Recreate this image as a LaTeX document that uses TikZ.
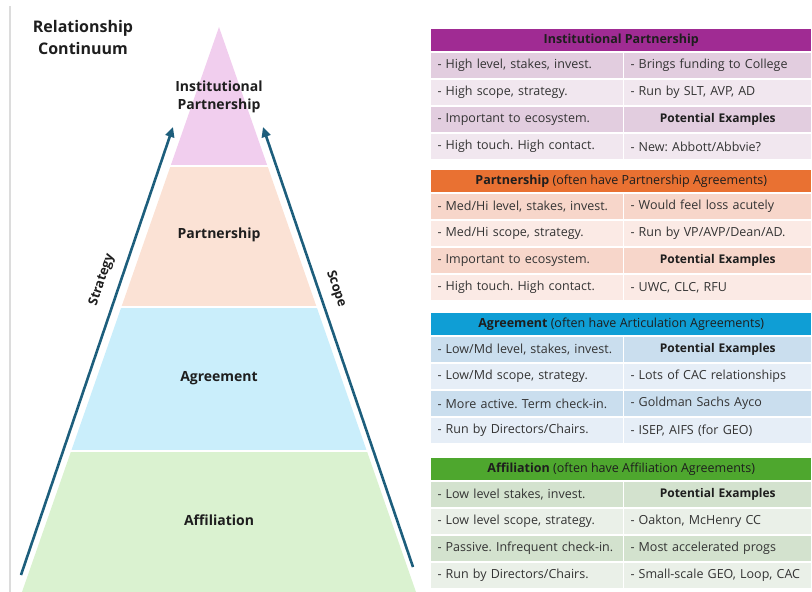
\documentclass[tikz,border=0pt]{standalone}
\usepackage{fontspec}
\setmainfont{Open Sans}
\usetikzlibrary{positioning,arrows.meta}
\frenchspacing

\definecolor{rulegray}{HTML}{DCDCDC}
\definecolor{inkdark}{HTML}{1E1E1E}
\definecolor{celltext}{HTML}{333333}
\definecolor{arrowteal}{HTML}{1D5E7C}
% pyramid bands
\definecolor{instfill}{HTML}{F1CEEE}
\definecolor{partfill}{HTML}{FBE2D5}
\definecolor{agrfill}{HTML}{CAEEFB}
\definecolor{afffill}{HTML}{DAF2D0}
% table colours
\definecolor{ipHeadCol}{HTML}{A02B93}
\definecolor{ipDark}{HTML}{E2CDDF}
\definecolor{ipLight}{HTML}{F1E7EF}
\definecolor{ptHeadCol}{HTML}{E97132}
\definecolor{ptDark}{HTML}{F7D6CA}
\definecolor{ptLight}{HTML}{FBEAE5}
\definecolor{agHeadCol}{HTML}{0F9ED5}
\definecolor{agDark}{HTML}{CADEEE}
\definecolor{agLight}{HTML}{E6EEF7}
\definecolor{afHeadCol}{HTML}{4EA72E}
\definecolor{afDark}{HTML}{D3E2CE}
\definecolor{afLight}{HTML}{EAF0E8}

\tikzstyle{titletext} = [align=center, font=\fontsize{16}{22}\selectfont\bfseries, text=inkdark]
\tikzstyle{layer} = [align=center, font=\fontsize{14}{18.5}\selectfont\bfseries, text=inkdark]
\tikzstyle{sidelabel} = [font=\fontsize{13}{15}\selectfont\bfseries, text=inkdark]
\tikzstyle{arrow} = [line width=2.6pt, draw=arrowteal, ->, >={Triangle[length=10pt, width=9pt]}]
\tikzstyle{hdr} = [rectangle, anchor=north west, minimum width=381.5pt, minimum height=24pt, inner sep=0pt, outer sep=0pt, draw=white, line width=1.5pt, text=inkdark]
\tikzstyle{lcell} = [rectangle, minimum width=193pt, minimum height=27pt, text width=179pt, inner xsep=7pt, inner ysep=0pt, outer sep=0pt, align=left, draw=white, line width=1.5pt, text=celltext]
\tikzstyle{rcell} = [lcell, minimum width=188.5pt, text width=174.5pt]
\tikzstyle{excell} = [rcell, align=center, font=\fontsize{12}{13}\selectfont\bfseries, text=inkdark]

\begin{document}
\begin{tikzpicture}[x=1pt, y=-1pt, node distance=0pt, font=\fontsize{12.5}{13.5}\selectfont]
\useasboundingbox (0,0) rectangle (812,592);

% thin rule at the left edge
\draw[rulegray, line width=2pt] (10,6) -- (10,592);

% pyramid
\coordinate (apex) at (219,27);
\coordinate (baseL) at (22,592);
\coordinate (baseR) at (416,592);
\begin{scope}
\clip (apex) -- (baseL) -- (baseR) -- cycle;
\fill[instfill] (0,0) rectangle (812,165);
\fill[partfill] (0,167) rectangle (812,306);
\fill[agrfill] (0,308) rectangle (812,450);
\fill[afffill] (0,452) rectangle (812,592);
\end{scope}

\node (title) [titletext] at (83,37) {Relationship\\Continuum};
\node (inst) [layer] at (219,97) {Institutional\\Partnership};
\node (part) [layer] at (219,235) {Partnership};
\node (agr) [layer] at (219,378) {Agreement};
\node (aff) [layer] at (219,520) {Affiliation};

% side arrows
\coordinate (stratFoot) at (21,575);
\coordinate (stratTip) at (173,127);
\coordinate (scopeFoot) at (413,567);
\coordinate (scopeTip) at (263,127);
\draw [arrow] (stratFoot) -- (stratTip);
\draw [arrow] (scopeFoot) -- (scopeTip);
\node (strategy) [sidelabel, rotate=71.3] at (102,280) {Strategy};
\node (scope) [sidelabel, rotate=-71.3] at (336,289) {Scope};

% Institutional Partnership table
\node (ipHead) [hdr, fill=ipHeadCol] at (430.5,28) {\textbf{Institutional Partnership}};
\node (ipA) [lcell, fill=ipDark, anchor=north west] at (ipHead.south west) {- High level, stakes, invest.};
\node (ipB) [lcell, fill=ipLight, below=of ipA] {- High scope, strategy.};
\node (ipC) [lcell, fill=ipDark, below=of ipB] {- Important to ecosystem.};
\node (ipD) [lcell, fill=ipLight, below=of ipC] {- High touch. High contact.};
\node (ipE) [rcell, fill=ipDark, right=of ipA] {- Brings funding to College};
\node (ipF) [rcell, fill=ipLight, right=of ipB] {- Run by SLT, AVP, AD};
\node (ipG) [excell, fill=ipDark, right=of ipC] {Potential Examples};
\node (ipH) [rcell, fill=ipLight, right=of ipD] {- New: Abbott/Abbvie?};

% Partnership table
\node (ptHead) [hdr, fill=ptHeadCol] at (430.5,169) {\textbf{Partnership} (often have Partnership Agreements)};
\node (ptA) [lcell, fill=ptDark, anchor=north west] at (ptHead.south west) {- Med/Hi level, stakes, invest.};
\node (ptB) [lcell, fill=ptLight, below=of ptA] {- Med/Hi scope, strategy.};
\node (ptC) [lcell, fill=ptDark, below=of ptB] {- Important to ecosystem.};
\node (ptD) [lcell, fill=ptLight, below=of ptC] {- High touch. High contact.};
\node (ptE) [rcell, fill=ptDark, right=of ptA] {- Would feel loss acutely};
\node (ptF) [rcell, fill=ptLight, right=of ptB] {- Run by VP/AVP/Dean/AD.};
\node (ptG) [excell, fill=ptDark, right=of ptC] {Potential Examples};
\node (ptH) [rcell, fill=ptLight, right=of ptD] {- UWC, CLC, RFU};

% Agreement table
\node (agHead) [hdr, fill=agHeadCol] at (430.5,312) {\textbf{Agreement} (often have Articulation Agreements)};
\node (agA) [lcell, fill=agDark, anchor=north west] at (agHead.south west) {- Low/Md level, stakes, invest.};
\node (agB) [lcell, fill=agLight, below=of agA] {- Low/Md scope, strategy.};
\node (agC) [lcell, fill=agDark, below=of agB] {- More active. Term check-in.};
\node (agD) [lcell, fill=agLight, below=of agC] {- Run by Directors/Chairs.};
\node (agE) [excell, fill=agDark, right=of agA] {Potential Examples};
\node (agF) [rcell, fill=agLight, right=of agB] {- Lots of CAC relationships};
\node (agG) [rcell, fill=agDark, right=of agC] {- Goldman Sachs Ayco};
\node (agH) [rcell, fill=agLight, right=of agD] {- ISEP, AIFS (for GEO)};

% Affiliation table
\node (afHead) [hdr, fill=afHeadCol] at (430.5,457) {\textbf{Affiliation} (often have Affiliation Agreements)};
\node (afA) [lcell, fill=afDark, anchor=north west] at (afHead.south west) {- Low level stakes, invest.};
\node (afB) [lcell, fill=afLight, below=of afA] {- Low level scope, strategy.};
\node (afC) [lcell, fill=afDark, below=of afB] {- Passive. Infrequent check-in.};
\node (afD) [lcell, fill=afLight, below=of afC] {- Run by Directors/Chairs.};
\node (afE) [excell, fill=afDark, right=of afA] {Potential Examples};
\node (afF) [rcell, fill=afLight, right=of afB] {- Oakton, McHenry CC};
\node (afG) [rcell, fill=afDark, right=of afC] {- Most accelerated progs};
\node (afH) [rcell, fill=afLight, right=of afD] {- Small-scale GEO, Loop, CAC};
\end{tikzpicture}
\end{document}
